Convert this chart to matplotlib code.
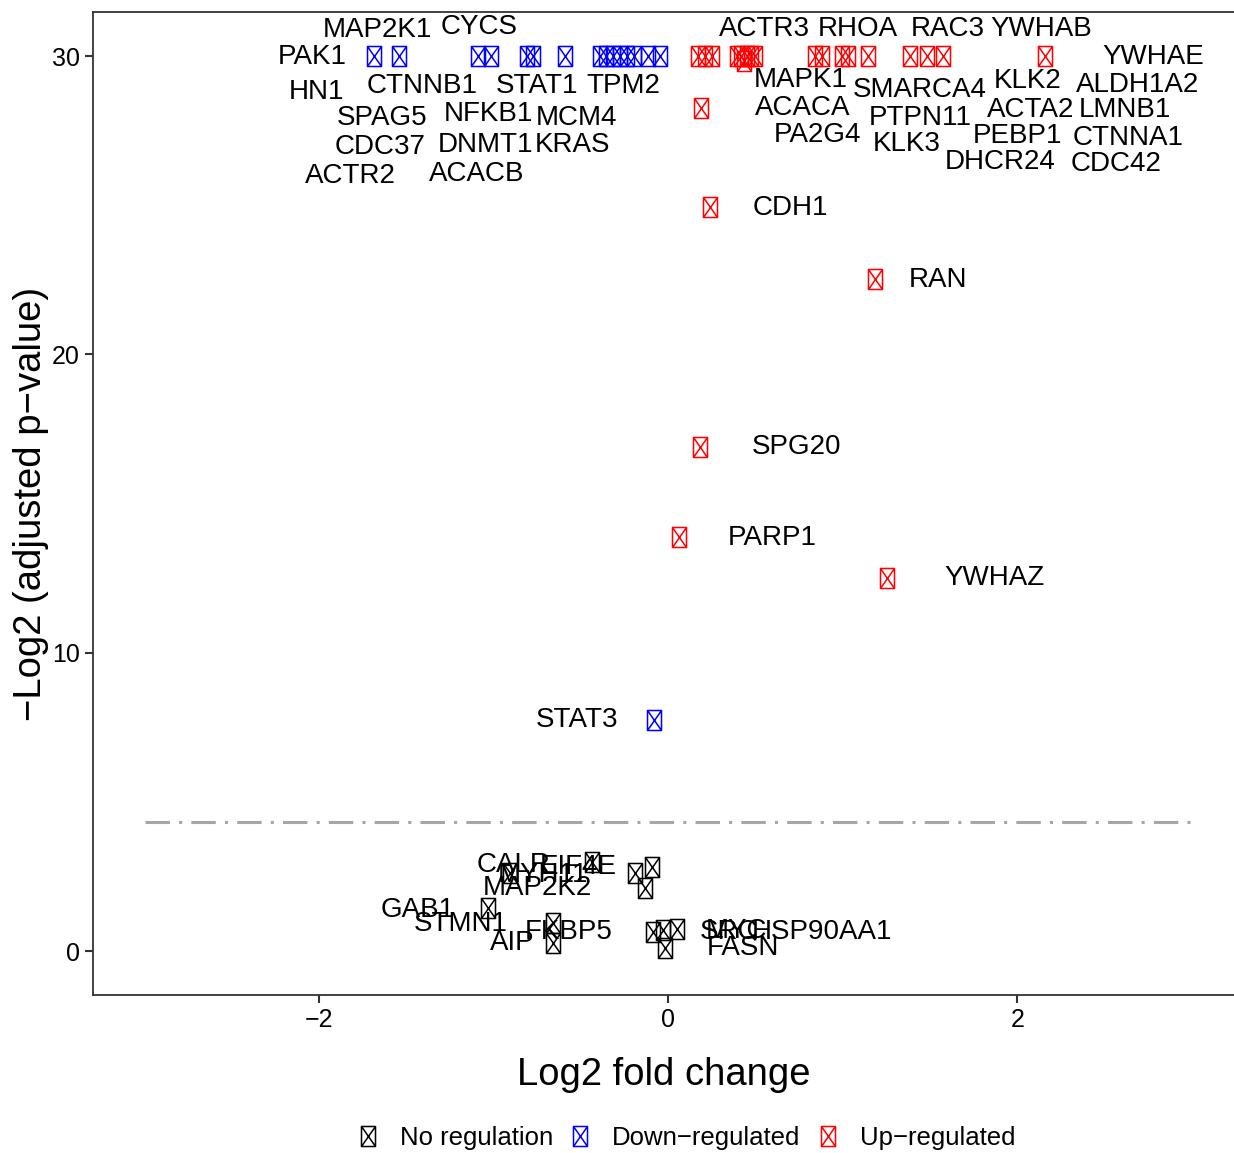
import matplotlib
matplotlib.use("Agg")
import matplotlib.pyplot as plt
from matplotlib.path import Path
from matplotlib.lines import Line2D
import numpy as np

plt.rcParams['font.family'] = ['Liberation Sans', 'DejaVu Sans']

# genes, log2 fold change, -log2(adjusted p) (capped at 30)
down_genes = ["PAK1", "MAP2K1", "HN1", "SPAG5", "CDC37", "ACTR2", "CTNNB1", "CYCS",
              "NFKB1", "DNMT1", "ACACB", "STAT1", "MCM4", "KRAS", "TPM2", "STAT3"]
down_fc = [-1.685, -1.542, -1.089, -1.014, -0.808, -0.774, -0.590, -0.390,
           -0.355, -0.315, -0.275, -0.235, -0.195, -0.115, -0.046, -0.080]
down_p = [30, 30, 30, 30, 30, 30, 30, 30, 30, 30, 30, 30, 30, 30, 30, 7.74]

up_genes = ["ACTR3", "MAPK1", "ACACA", "RHOA", "PA2G4", "SMARCA4", "PTPN11", "KLK3",
            "RAC3", "KLK2", "ACTA2", "DHCR24", "PEBP1", "YWHAB", "ALDH1A2", "LMNB1",
            "CTNNA1", "YWHAE", "CDC42", "CDH1", "RAN", "SPG20", "PARP1", "YWHAZ"]
up_fc = [0.172, 0.212, 0.252, 0.395, 0.418, 0.436, 0.453, 0.476,
         0.499, 0.842, 0.883, 0.997, 1.032, 1.146, 1.387, 1.484,
         1.576, 2.160, 0.189, 0.241, 1.181, 0.183, 0.063, 1.255]
up_p = [30, 30, 30, 30, 30, 29.85, 30, 30,
        30, 30, 30, 30, 30, 30, 30, 30,
        30, 30, 28.26, 24.94, 22.53, 16.90, 13.88, 12.50]

no_genes = ["CALR", "MYH11", "EIF4E", "MAP2K2", "GAB1", "STMN1", "AIP", "FKBP5",
            "SRC", "MYC", "HSP90AA1", "FASN"]
no_fc = [-0.905, -0.436, -0.092, -0.132, -1.032, -0.659, -0.659, -0.189,
         -0.086, -0.029, 0.052, -0.017]
no_p = [2.61, 2.98, 2.82, 2.11, 1.44, 0.94, 0.27, 2.61,
        0.64, 0.70, 0.74, 0.10]

threshold = -np.log2(0.05)

# label placement (repelled positions, data coords)
down_lab = {"PAK1": (-2.040, 29.97), "MAP2K1": (-1.668, 30.87), "HN1": (-2.017, 28.80),
            "SPAG5": (-1.639, 27.92), "CDC37": (-1.650, 26.95), "ACTR2": (-1.822, 25.98),
            "CTNNB1": (-1.410, 29.00), "CYCS": (-1.083, 30.97), "NFKB1": (-1.032, 28.06),
            "DNMT1": (-1.049, 27.02), "ACACB": (-1.100, 26.05), "STAT1": (-0.751, 29.00),
            "MCM4": (-0.527, 27.92), "KRAS": (-0.550, 27.02), "TPM2": (-0.258, 29.00),
            "STAT3": (-0.521, 7.74)}
up_lab = {"ACTR3": (0.550, 30.91), "RHOA": (1.083, 30.91), "RAC3": (1.599, 30.91),
          "YWHAB": (2.138, 30.91), "YWHAE": (2.779, 29.97), "MAPK1": (0.756, 29.20),
          "SMARCA4": (1.438, 28.86), "KLK2": (2.057, 29.17), "ALDH1A2": (2.688, 29.03),
          "ACACA": (0.768, 28.26), "PTPN11": (1.444, 27.92), "ACTA2": (2.074, 28.19),
          "LMNB1": (2.613, 28.19), "PA2G4": (0.854, 27.36), "KLK3": (1.364, 27.05),
          "PEBP1": (2.000, 27.32), "CTNNA1": (2.636, 27.25), "DHCR24": (1.903, 26.45),
          "CDC42": (2.562, 26.38), "CDH1": (0.699, 24.91), "RAN": (1.547, 22.49),
          "SPG20": (0.734, 16.90), "PARP1": (0.596, 13.85), "YWHAZ": (1.868, 12.50)}
no_lab = {"CALR": (-0.888, 2.88), "MYH11": (-0.716, 2.55), "EIF4E": (-0.516, 2.82),
          "MAP2K2": (-0.751, 2.11), "GAB1": (-1.438, 1.37), "STMN1": (-1.186, 0.91),
          "AIP": (-0.894, 0.27), "FKBP5": (-0.573, 0.64), "SRC": (0.350, 0.64),
          "MYC": (0.390, 0.67), "HSP90AA1": (0.883, 0.64), "FASN": (0.430, 0.10)}

# boxed-x marker, taller than wide
w, h = 0.35, 0.5
verts = [(-w, -h), (w, -h), (w, h), (-w, h), (-w, -h), (w, h), (-w, h), (w, -h)]
codes = [Path.MOVETO, Path.LINETO, Path.LINETO, Path.LINETO, Path.CLOSEPOLY,
         Path.LINETO, Path.MOVETO, Path.LINETO]
boxx = Path(verts, codes)

fig = plt.figure(figsize=(12.34, 11.53), dpi=100)
ax = fig.add_axes([93 / 1234, 1 - 995 / 1153, 1 - 93 / 1234, (995 - 12) / 1153])

ms = 14.4
for fc, p, col in [(no_fc, no_p, 'black'), (down_fc, down_p, 'blue'), (up_fc, up_p, 'red')]:
    ax.plot(fc, p, linestyle='none', marker=boxx, markersize=ms,
            markerfacecolor='none', markeredgecolor=col, markeredgewidth=1.1)

for genes, lab in [(down_genes, down_lab), (up_genes, up_lab), (no_genes, no_lab)]:
    for g in genes:
        lx, ly = lab[g]
        ax.text(lx, ly, g, fontsize=20, ha='center', va='center', color='black')

ax.plot([-3, 3], [threshold, threshold], color='#a6a6a6', lw=2.2,
        linestyle=(0, (8, 3, 1, 3)))

ax.set_xlim(-3.295, 3.24)
ax.set_ylim(-1.475, 31.48)
ax.set_xticks([-2, 0, 2])
ax.set_xticklabels(['\u22122', '0', '2'])
ax.set_yticks([0, 10, 20, 30])
ax.tick_params(labelsize=18, length=6, width=1.5, color='#333333', labelcolor='black')
for s in ['left', 'bottom', 'top']:
    ax.spines[s].set_color('#333333')
    ax.spines[s].set_linewidth(1.3)
ax.spines['right'].set_visible(False)
for xt in [-2, 0, 2]:
    ax.axvline(xt, ymin=0.994, ymax=1.01, color='white', lw=2, clip_on=False)

ax.set_xlabel('Log2 fold change', fontsize=27.5, labelpad=18)
ax.set_ylabel('\u2212Log2 (adjusted p\u2212value)', fontsize=27.5, labelpad=2)

handles = [Line2D([], [], linestyle='none', marker=boxx, markersize=ms,
                  markerfacecolor='none', markeredgecolor=c, markeredgewidth=1.1)
           for c in ['black', 'blue', 'red']]
fig.legend(handles, ['No regulation', 'Down\u2212regulated', 'Up\u2212regulated'],
           loc='center', bbox_to_anchor=(0.55, 1 - 1138 / 1153), ncol=3,
           frameon=False, fontsize=18.5, handletextpad=0.25, columnspacing=0.05)

fig.savefig('out.png', dpi=100)
